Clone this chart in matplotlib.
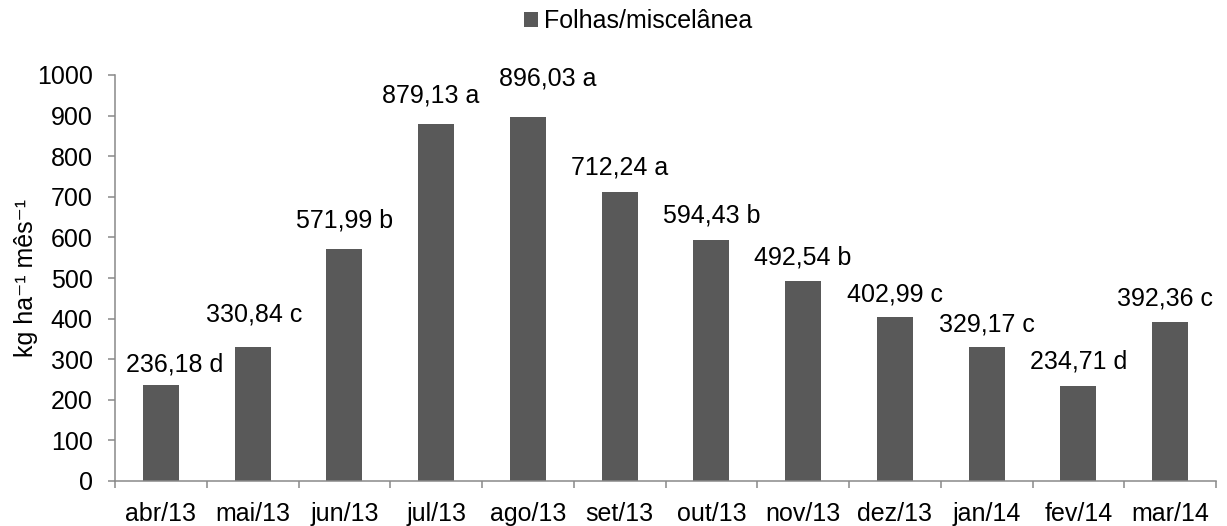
import matplotlib
matplotlib.use("Agg")
import matplotlib.pyplot as plt
from matplotlib.patches import Patch

plt.rcParams['font.family'] = ['Liberation Sans', 'DejaVu Sans']

months = ['abr/13', 'mai/13', 'jun/13', 'jul/13', 'ago/13', 'set/13',
          'out/13', 'nov/13', 'dez/13', 'jan/14', 'fev/14', 'mar/14']
values = [236.18, 330.84, 571.99, 879.13, 896.03, 712.24,
          594.43, 492.54, 402.99, 329.17, 234.71, 392.36]
letters = ['d', 'c', 'b', 'a', 'a', 'a', 'b', 'b', 'c', 'c', 'd', 'c']

# where each value label sits relative to the bar top (pixels), as in the original
lab_dx = [14, 2, 0, -5, 20, 0, 0, 0, 0, 0, 0, -5]
lab_dy = [23, 34, 30, 31, 41, 26, 26, 25, 25, 25, 26, 25]

fs = 18
bar_color = '#595959'
axis_color = '#898989'

fig = plt.figure(figsize=(12.27, 5.26), dpi=100)
ax = fig.add_axes([115 / 1227, 1 - 481 / 526, 1101 / 1227, 406 / 526])

x = list(range(len(months)))
ax.bar(x, values, width=0.39, color=bar_color, zorder=2)

half_digit = 0.358 * fs * 100 / 72
for i, v in enumerate(values):
    txt = f"{v:.2f}".replace('.', ',') + ' ' + letters[i]
    ax.annotate(txt, (i, v),
                xytext=(lab_dx[i] * 0.72, (lab_dy[i] - half_digit) * 0.72),
                textcoords='offset points', ha='center', va='baseline', fontsize=fs)

ax.set_xlim(-0.5, len(months) - 0.5)
ax.set_ylim(0, 1000)
ax.set_yticks(range(0, 1001, 100))
ax.set_xticks(x)
ax.set_xticklabels(months, fontsize=fs)
ax.tick_params(axis='x', length=0, pad=15)
ax.set_xticks([i - 0.5 for i in range(len(months) + 1)], minor=True)
ax.tick_params(axis='x', which='minor', length=5, color=axis_color, width=1.1)
ax.tick_params(axis='y', length=5, color=axis_color, width=1.1, labelsize=fs, pad=11)

for s in ['top', 'right']:
    ax.spines[s].set_visible(False)
for s in ['left', 'bottom']:
    ax.spines[s].set_color(axis_color)
    ax.spines[s].set_linewidth(1.1)

fig.text(26 / 1227, 1 - 278 / 526, 'kg ha⁻¹ mês⁻¹',
         rotation=90, ha='center', va='center', fontsize=fs)

handle = Patch(facecolor=bar_color, label='Folhas/miscelânea')
fig.legend(handles=[handle], loc='center', bbox_to_anchor=(638 / 1227, 1 - 21 / 526),
           frameon=False, fontsize=fs, handlelength=0.55, handleheight=0.55,
           handletextpad=0.25, borderpad=0, borderaxespad=0)

fig.savefig('out.png', dpi=100)
